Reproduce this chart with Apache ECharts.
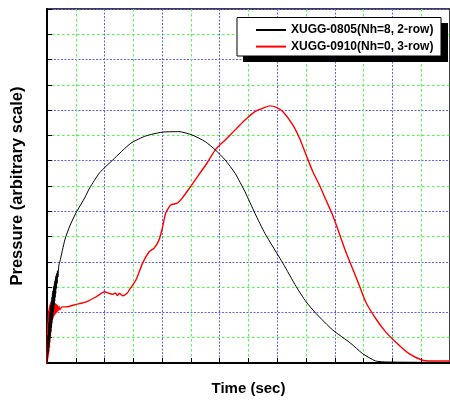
<!DOCTYPE html>
<html>
<head>
<meta charset="utf-8">
<script src="https://cdn.jsdelivr.net/npm/echarts@6/dist/echarts.min.js"></script>
<style>
html,body{margin:0;padding:0;background:#fff;}
#chart{width:450px;height:401px;}
</style>
</head>
<body>
<div id="chart"></div>
<script>
var seriesNames = ['XUGG-0805(Nh=8, 2-row)', 'XUGG-0910(Nh=0, 3-row)'];
var xAxisTitle = 'Time (sec)';
var yAxisTitle = 'Pressure (arbitrary scale)';

var black0805 = [
  [0.017,0.04],[0.035,1.10],[0.045,0.40],[0.052,1.30],[0.060,0.60],[0.069,1.60],
  [0.078,0.80],[0.086,1.80],[0.095,0.95],[0.103,2.00],[0.112,1.10],[0.121,2.15],
  [0.130,1.25],[0.138,2.30],[0.147,1.40],[0.155,2.45],[0.164,1.55],[0.172,2.60],
  [0.181,1.70],[0.189,2.75],[0.198,1.85],[0.207,2.85],[0.215,2.00],[0.224,2.95],
  [0.233,2.15],[0.241,3.05],[0.250,2.30],[0.258,3.15],[0.267,2.45],[0.276,3.25],
  [0.285,2.60],[0.293,3.35],[0.302,2.75],[0.310,3.45],[0.327,2.95],[0.344,3.55],
  [0.353,3.15],[0.362,3.65],[0.379,3.40],[0.413,3.88],[0.448,4.01],[0.620,4.87],
  [0.792,5.42],[1.023,5.97],[1.309,6.53],[1.481,6.92],[1.826,7.52],[2.284,8.03],
  [2.911,8.69],[3.434,8.98],[4.006,9.13],[4.582,9.15],[5.040,9.02],[5.501,8.75],
  [5.846,8.43],[6.190,8.03],[6.535,7.50],[6.879,6.77],[7.224,5.92],[7.568,5.13],
  [8.198,3.94],[8.657,3.02],[9.001,2.42],[9.346,1.96],[9.921,1.31],[10.551,0.78],
  [10.954,0.38],[11.412,0.08],[11.815,0.04],[13.985,0.02]
];

var red0910 = [
  [0.000,0.00],[0.009,1.20],[0.017,0.10],[0.026,1.60],[0.034,0.20],[0.043,1.90],
  [0.052,0.30],[0.060,2.10],[0.069,0.44],[0.078,2.20],[0.086,0.60],[0.095,2.30],
  [0.103,0.80],[0.112,2.35],[0.121,1.00],[0.130,2.40],[0.138,1.20],[0.147,2.42],
  [0.155,1.40],[0.164,2.44],[0.172,1.60],[0.189,2.42],[0.207,1.75],[0.224,2.40],
  [0.241,1.85],[0.258,2.38],[0.276,1.92],[0.293,2.35],[0.310,1.97],[0.327,2.32],
  [0.344,2.02],[0.362,2.28],[0.379,2.05],[0.413,2.25],[0.448,2.10],[0.517,2.22],
  [0.654,2.22],[1.023,2.32],[1.368,2.42],[1.712,2.62],[1.998,2.82],[2.170,2.75],
  [2.284,2.72],[2.377,2.77],[2.446,2.67],[2.515,2.75],[2.628,2.66],[2.790,2.77],
  [2.859,2.89],[3.090,3.28],[3.317,3.94],[3.548,4.40],[3.720,4.54],[3.892,4.87],
  [4.006,5.33],[4.123,5.92],[4.296,6.25],[4.523,6.32],[4.695,6.52],[4.985,6.97],
  [5.270,7.44],[5.556,7.90],[5.846,8.43],[6.190,8.82],[6.535,9.22],[6.879,9.61],
  [7.224,9.94],[7.568,10.11],[7.751,10.17],[7.968,10.11],[8.198,9.94],[8.543,9.41],
  [8.774,8.89],[9.001,8.23],[9.232,7.57],[9.463,7.04],[9.690,6.45],[9.921,5.85],
  [10.152,5.13],[10.379,4.40],[10.610,3.75],[10.841,3.09],[11.068,2.42],[11.412,1.77],
  [11.757,1.24],[12.101,0.84],[12.563,0.38],[13.021,0.12],[13.365,0.08],[13.985,0.08]
];

var chart = echarts.init(document.getElementById('chart'), null, {renderer:'canvas'});
var FONT = '"Liberation Sans", Arial, sans-serif';
var blueGrid = {color:'#6060ff', width:1, type:[2,1.5]};
var greenGrid = {color:'#44ff44', width:1, type:[2.5,2.5]};

var option = {
  backgroundColor:'#fff',
  animation:false,
  grid:{left:47, right:-3.4, top:9, bottom:38, show:true, borderColor:'#000', borderWidth:1.5, backgroundColor:'transparent'},
  xAxis:{
    type:'value', min:0, max:14, interval:2,
    name:xAxisTitle, nameLocation:'middle', nameGap:18,
    nameTextStyle:{fontFamily:FONT, fontWeight:'bold', fontSize:15, color:'#000'},
    axisLine:{show:true, onZero:false, lineStyle:{color:'#000', width:2}},
    axisTick:{show:true, inside:true, length:5, lineStyle:{color:'#000', width:1}},
    minorTick:{show:true, splitNumber:2, length:5, lineStyle:{color:'#000', width:1}},
    axisLabel:{show:false},
    splitLine:{show:true, lineStyle:blueGrid},
    minorSplitLine:{show:true, lineStyle:greenGrid}
  },
  yAxis:{
    type:'value', min:0, max:14, interval:2,
    name:yAxisTitle, nameLocation:'middle', nameGap:21,
    nameTextStyle:{fontFamily:FONT, fontWeight:'bold', fontSize:16.5, color:'#000'},
    axisLine:{show:true, onZero:false, lineStyle:{color:'#000', width:2}},
    axisTick:{show:true, inside:true, length:5, lineStyle:{color:'#000', width:1}},
    minorTick:{show:true, splitNumber:2, length:5, lineStyle:{color:'#000', width:1}},
    axisLabel:{show:false},
    splitLine:{show:true, lineStyle:blueGrid},
    minorSplitLine:{show:true, lineStyle:greenGrid}
  },
  graphic:[
    {type:'rect', z:100, shape:{x:243, y:23, width:205, height:39}, style:{fill:'#000'}},
    {type:'rect', z:101, shape:{x:237, y:17.5, width:204, height:38.5}, style:{fill:'#fff', stroke:'#000', lineWidth:1}}
  ],
  legend:{
    z:200, orient:'vertical', left:255, top:24, padding:0,
    itemWidth:30, itemHeight:14, itemGap:4.6,
    itemStyle:{color:'transparent', borderColor:'transparent', borderWidth:0, opacity:0},
    textStyle:{fontFamily:FONT, fontWeight:'bold', fontSize:12, color:'#000', padding:[0,0,0,0]},
    data:seriesNames
  },
  series:[
    {name:seriesNames[0], type:'line', data:black0805, symbol:'none', smooth:0.2,
     lineStyle:{color:'#000', width:1}, itemStyle:{color:'#000'}, z:3},
    {name:seriesNames[1], type:'line', data:red0910, symbol:'none', smooth:0.2,
     lineStyle:{color:'#ff0000', width:1.4}, itemStyle:{color:'#ff0000'}, z:2}
  ]
};
chart.setOption(option);
</script>
</body>
</html>
